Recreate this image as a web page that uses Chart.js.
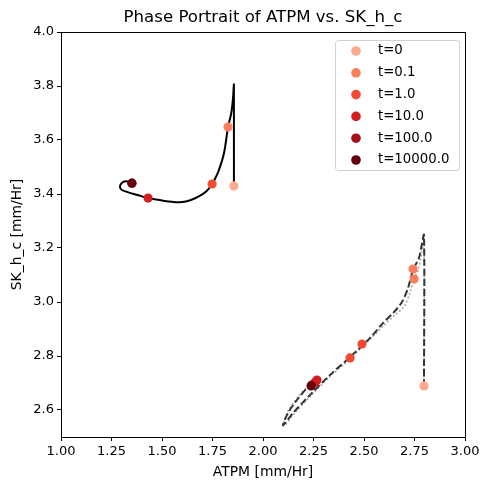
<!DOCTYPE html>
<html>
<head>
<meta charset="utf-8">
<script src="https://cdn.jsdelivr.net/npm/chart.js@4.4.0/dist/chart.umd.min.js"></script>
<style>
  html, body { margin: 0; padding: 0; background: #fff; }
</style>
</head>
<body>
<canvas id="phaseChart" width="490" height="490"></canvas>
<script>
// trajectory 1 (solid)
var solidX = [1.856, 1.856, 1.852, 1.843, 1.827, 1.807, 1.782, 1.765, 1.748, 1.72, 1.68, 1.64, 1.60, 1.55, 1.50, 1.431, 1.38, 1.33, 1.30, 1.292, 1.30, 1.318, 1.338, 1.351];
var solidY = [3.430, 3.804, 3.76, 3.70, 3.648, 3.552, 3.489, 3.46, 3.437, 3.41, 3.39, 3.377, 3.370, 3.371, 3.376, 3.385, 3.396, 3.407, 3.416, 3.428, 3.440, 3.447, 3.445, 3.440];

// trajectory 2 (dashed)
var dashedX = [2.797, 2.797, 2.783, 2.772, 2.743, 2.718, 2.688, 2.644, 2.594, 2.530, 2.431, 2.332, 2.233, 2.149, 2.099, 2.124, 2.168, 2.218, 2.238];
var dashedY = [2.689, 3.248, 3.20, 3.163, 3.119, 3.052, 3.000, 2.959, 2.922, 2.867, 2.796, 2.730, 2.656, 2.589, 2.544, 2.589, 2.637, 2.681, 2.689];

// trajectory 3 (dotted grey)
var dottedX = [2.797, 2.797, 2.788, 2.768, 2.748, 2.730, 2.700, 2.650, 2.600, 2.530, 2.431, 2.332, 2.233, 2.152, 2.102, 2.120, 2.170, 2.225, 2.252];
var dottedY = [2.689, 3.248, 3.19, 3.120, 3.085, 3.040, 2.985, 2.950, 2.915, 2.862, 2.790, 2.724, 2.650, 2.584, 2.540, 2.590, 2.645, 2.690, 2.700];

// markers at selected times
var timeLabels = ['t=0', 't=0.1', 't=1.0', 't=10.0', 't=100.0', 't=10000.0'];
var markerX = [
  [1.856, 2.797],
  [1.827, 2.743, 2.748],
  [1.748, 2.490, 2.431],
  [1.431, 2.267, 2.258],
  [1.351, 2.240],
  [1.351, 2.238]
];
var markerY = [
  [3.430, 2.689],
  [3.648, 3.122, 3.085],
  [3.437, 2.844, 2.793],
  [3.385, 2.711, 2.703],
  [3.440, 2.692],
  [3.440, 2.689]
];

var xTicks = [1.00, 1.25, 1.50, 1.75, 2.00, 2.25, 2.50, 2.75, 3.00];
var yTicks = [2.6, 2.8, 3.0, 3.2, 3.4, 3.6, 3.8, 4.0];

var chartTitle = 'Phase Portrait of ATPM vs. SK_h_c';
var markerColors = ['#fcab8f', '#fb7f5f', '#f34935', '#d01d1f', '#a50f15', '#67000d'];

function toPoints(xs, ys) {
  return xs.map(function (x, i) { return { x: x, y: ys[i] }; });
}

Chart.defaults.font.family = 'DejaVu Sans';
Chart.defaults.color = '#000';

var datasets = [];
// last marker on top: dataset 0 is drawn last
for (var i = timeLabels.length - 1; i >= 0; i--) {
  datasets.push({
    label: timeLabels[i],
    data: toPoints(markerX[i], markerY[i]),
    showLine: false,
    pointRadius: 4.6,
    pointBackgroundColor: markerColors[i],
    pointBorderWidth: 0
  });
}
datasets.push({
  label: 'solid',
  data: toPoints(solidX, solidY),
  showLine: true,
  borderColor: '#000',
  borderWidth: 2,
  pointRadius: 0,
  tension: 0.35
});
datasets.push({
  label: 'dashed',
  data: toPoints(dashedX, dashedY),
  showLine: true,
  borderColor: '#333',
  borderWidth: 2,
  borderDash: [7, 3],
  pointRadius: 0,
  tension: 0.3
});
datasets.push({
  label: 'dotted',
  data: toPoints(dottedX, dottedY),
  showLine: true,
  borderColor: '#a8a8a8',
  borderWidth: 1.6,
  borderDash: [2, 2],
  pointRadius: 0,
  tension: 0.3
});

// frame round the plot + title centred over the plot area
var framePlugin = {
  id: 'frame',
  afterDraw: function (chart) {
    var a = chart.chartArea, c = chart.ctx;
    c.save();
    c.strokeStyle = '#000';
    c.lineWidth = 1;
    c.strokeRect(a.left + 0.5, a.top + 0.5, a.right - a.left, a.bottom - a.top);
    c.font = '16.6px "DejaVu Sans"';
    c.textAlign = 'center';
    c.textBaseline = 'middle';
    c.fillStyle = '#000';
    c.fillText(chartTitle, (a.left + a.right) / 2, 18);
    c.restore();
  }
};

// legend box like matplotlib
var legendPlugin = {
  id: 'boxLegend',
  afterDraw: function (chart) {
    var c = chart.ctx;
    var bx = 335, by = 40, bw = 124, bh = 130;
    c.save();
    c.fillStyle = 'rgba(255,255,255,0.8)';
    c.strokeStyle = '#d0d0d0';
    c.lineWidth = 1;
    c.beginPath();
    c.roundRect(bx + 0.5, by + 0.5, bw, bh, 3);
    c.fill();
    c.stroke();
    c.font = '13.3px "DejaVu Sans"';
    c.textBaseline = 'middle';
    for (var i = 0; i < timeLabels.length; i++) {
      var yy = by + 11 + i * 21.8;
      c.beginPath();
      c.arc(356, yy, 4.8, 0, Math.PI * 2);
      c.fillStyle = markerColors[i];
      c.fill();
      c.fillStyle = '#000';
      c.fillText(timeLabels[i], 378, yy);
    }
    c.restore();
  }
};

var ctx = document.getElementById('phaseChart').getContext('2d');
var phaseChart = new Chart(ctx, {
  type: 'scatter',
  data: { datasets: datasets },
  options: {
    responsive: false,
    animation: false,
    layout: { padding: { left: 9, right: 25, top: 32, bottom: 0 } },
    plugins: {
      legend: { display: false },
      tooltip: { enabled: false },
      title: { display: false }
    },
    scales: {
      x: {
        type: 'linear',
        min: 1, max: 3,
        afterBuildTicks: function (s) { s.ticks = xTicks.map(function (v) { return { value: v }; }); },
        afterFit: function (s) { s.height = 53; },
        ticks: {
          callback: function (v) { return v.toFixed(2); },
          font: { size: 13 }, color: '#000', padding: 3, maxRotation: 0, autoSkip: false
        },
        grid: { drawOnChartArea: false, tickLength: 4, color: '#000' },
        border: { color: '#000' },
        title: { display: true, text: 'ATPM [mm/Hr]', font: { size: 13.9 }, color: '#000', padding: { top: 2, bottom: 9 } }
      },
      y: {
        type: 'linear',
        min: 2.5, max: 4.0,
        afterBuildTicks: function (s) { s.ticks = yTicks.map(function (v) { return { value: v }; }); },
        afterFit: function (s) { s.width = 52; },
        ticks: {
          callback: function (v) { return v.toFixed(1); },
          font: { size: 13 }, color: '#000', padding: 3, autoSkip: false
        },
        grid: { drawOnChartArea: false, tickLength: 4, color: '#000' },
        border: { color: '#000' },
        title: { display: true, text: 'SK_h_c [mm/Hr]', font: { size: 13.9 }, color: '#000', padding: { top: 0, bottom: 2 } }
      }
    }
  },
  plugins: [framePlugin, legendPlugin]
});
</script>
</body>
</html>
